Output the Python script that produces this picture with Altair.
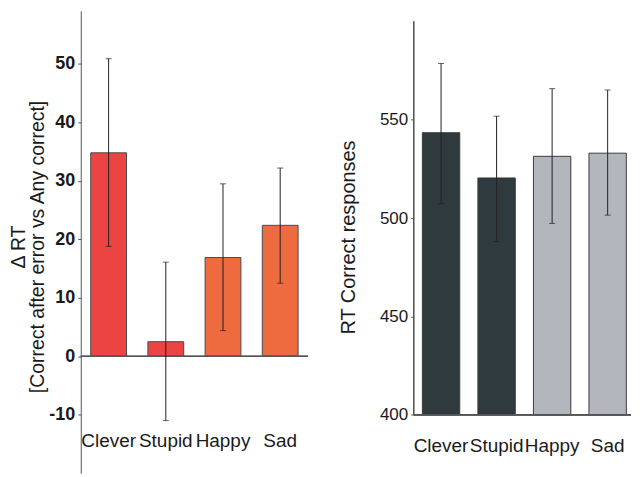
import altair as alt
import pandas as pd

categories = ["Clever", "Stupid", "Happy", "Sad"]

delta_rt = [34.8, 2.5, 16.9, 22.4]
delta_lo = [18.8, -11.0, 4.4, 12.5]
delta_hi = [50.9, 16.1, 29.5, 32.2]
left_colors = ["#EB4442", "#EB4442", "#EE6A3F", "#EE6A3F"]
left_ticks = [-10, 0, 10, 20, 30, 40, 50]
left_domain = [-20, 59.1]

rt = [543.4, 520.4, 531.4, 533.0]
rt_lo = [507.4, 488.1, 497.3, 501.5]
rt_hi = [578.6, 551.8, 565.8, 565.1]
right_colors = ["#2E3A3E", "#2E3A3E", "#B4B6BD", "#B4B6BD"]
right_ticks = [400, 450, 500, 550]
right_domain = [370.3, 605.4]
right_axis_span = [400, 600]

df_left = pd.DataFrame({"cat": categories, "v": delta_rt, "lo": delta_lo, "hi": delta_hi})
df_right = pd.DataFrame({"cat": categories, "v": rt, "lo": rt_lo, "hi": rt_hi})

FONT = "Liberation Sans"
TXT = "#1a1a1a"
AX = "#555555"
H = 464

# ---------- left panel ----------
xl = alt.X("cat:N", sort=categories,
           scale=alt.Scale(paddingInner=0.374, paddingOuter=0.174),
           axis=alt.Axis(title=None, domain=False, ticks=False, labelAngle=0,
                         labelFontSize=19, labelColor=TXT, offset=-44, labelPadding=2))
yl_scale = alt.Scale(domain=left_domain, nice=False, zero=False)

base_l = alt.Chart(df_left)
bars_l = base_l.mark_bar(stroke="#4a4a4a", strokeWidth=1).encode(
    x=xl,
    y=alt.Y("v:Q", scale=yl_scale,
            axis=alt.Axis(values=left_ticks, title=["Δ RT", "[Correct after error vs Any correct]"],
                          labelExpr="'' + datum.value",
                          titleFontSize=19.5, titleFontWeight="normal", titleColor=TXT,
                          titleLineHeight=19, titlePadding=1, titleY=236.5,
                          labelFontSize=18, labelFontWeight="bold", labelColor=TXT,
                          tickSize=3, tickColor=AX, domainColor=AX, grid=False, labelPadding=3)),
    y2=alt.datum(0),
    color=alt.Color("cat:N", scale=alt.Scale(domain=categories, range=left_colors), legend=None),
)
zero_l = base_l.mark_rule(color=AX, strokeWidth=1.2).encode(y=alt.datum(0))
err_l = base_l.mark_rule(color="#222222", strokeWidth=1).encode(
    x=alt.X("cat:N", sort=categories), y="lo:Q", y2="hi:Q")
caplo_l = base_l.mark_tick(color="#222222", size=6, thickness=1).encode(
    x=alt.X("cat:N", sort=categories), y="lo:Q")
caphi_l = base_l.mark_tick(color="#222222", size=6, thickness=1).encode(
    x=alt.X("cat:N", sort=categories), y="hi:Q")

left = alt.layer(bars_l, zero_l, err_l, caplo_l, caphi_l).properties(width=228, height=H)

# ---------- right panel ----------
xr = alt.X("cat:N", sort=categories,
           scale=alt.Scale(paddingInner=0.327, paddingOuter=0.12, align=0.65),
           axis=alt.Axis(title=None, domain=False, ticks=False, labelAngle=0,
                         labelFontSize=19, labelColor=TXT, offset=-39, labelPadding=2))
yr_scale = alt.Scale(domain=right_domain, nice=False, zero=False)

base_r = alt.Chart(df_right)
bars_r = base_r.mark_bar(stroke="#3a3a3a", strokeWidth=1).encode(
    x=xr,
    y=alt.Y("v:Q", scale=yr_scale,
            axis=alt.Axis(values=right_ticks, title="RT Correct responses", domain=False,
                          titleFontSize=20, titleFontWeight="normal", titleColor=TXT,
                          titlePadding=21, titleY=227,
                          labelFontSize=17, labelColor=TXT,
                          tickSize=3, tickColor=AX, grid=False, labelPadding=3)),
    y2=alt.datum(right_axis_span[0]),
    color=alt.Color("cat:N", scale=alt.Scale(domain=categories, range=right_colors), legend=None),
)
axis_line_r = base_r.mark_rule(color=AX, strokeWidth=1).encode(
    x=alt.value(0), y=alt.datum(right_axis_span[0]), y2=alt.datum(right_axis_span[1]))
base_line_r = base_r.mark_rule(color=AX, strokeWidth=1.2).encode(y=alt.datum(right_axis_span[0]))
err_r = base_r.mark_rule(color="#222222", strokeWidth=1).encode(
    x=alt.X("cat:N", sort=categories), y="lo:Q", y2="hi:Q")
caplo_r = base_r.mark_tick(color="#222222", size=6, thickness=1).encode(
    x=alt.X("cat:N", sort=categories), y="lo:Q")
caphi_r = base_r.mark_tick(color="#222222", size=6, thickness=1).encode(
    x=alt.X("cat:N", sort=categories), y="hi:Q")

right = alt.layer(bars_r, axis_line_r, base_line_r, err_r, caplo_r, caphi_r).properties(
    width=218, height=H)

chart = alt.hconcat(left, right, spacing=29).resolve_scale(
    color="independent", x="independent", y="independent"
).properties(
    padding={"left": 0, "top": 2, "right": 0, "bottom": 0}
).configure(font=FONT).configure_view(stroke=None).configure_axis(grid=False)

chart.save("out.html", embed_options={"renderer": "svg", "actions": False})
